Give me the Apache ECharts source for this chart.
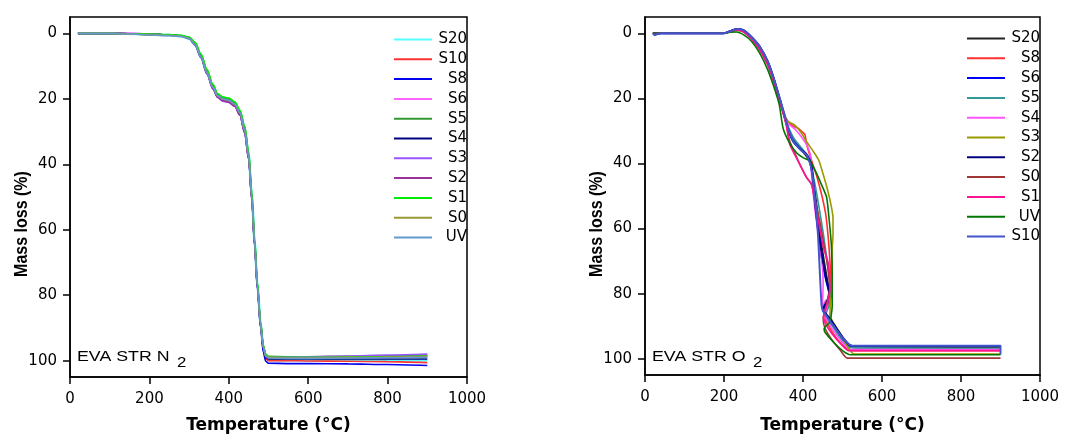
<!DOCTYPE html>
<html><head><meta charset="utf-8">
<script src="https://cdn.jsdelivr.net/npm/echarts@6/dist/echarts.min.js"></script>
<style>html,body{margin:0;padding:0;background:#fff}#c{width:1065px;height:439px}</style>
</head><body><div id="c"></div><script>
// ---------- axis ticks ----------
const xTicks = [0, 200, 400, 600, 800, 1000];
const yTicks = [0, 20, 40, 60, 80, 100];

// ---------- N2 chart (left) ----------
const namesN2 = ['S20','S10','S8','S6','S5','S4','S3','S2','S1','S0','UV'];
const colorsN2 = ['#55ffff','#ff3333','#0000ee','#ff66ff','#339933','#000080','#9955ff','#993399','#00ee00','#999933','#6699cc'];
const tempN2 = [20,60,100,150,200,250,280,300,315,330,345,360,372,385,400,415,428,440,450,458,465,472,480,487,493,500,550,600,700,800,900];
const n2_S20 = [0,0,0,0.1,0.3,0.5,0.8,1.4,3.2,7,11.8,16.3,18.8,19.8,20.2,21.4,24,29,37,49.5,63.5,76.5,88.5,96,98.8,99.8,99.9,99.9,99.9,99.9,99.9];
const n2_S10 = [0,0,0,0.1,0.3,0.5,0.8,1.5,3.3,7.1,12,16.5,19,20,20.4,21.6,24.3,29.6,37.8,50.5,64.5,77.5,89.5,96.8,99.4,100,100,100.1,100.2,100.3,100.6];
const n2_S8  = [0,0,0,0.1,0.3,0.5,0.9,1.6,3.6,7.5,12.4,17,19.5,20.5,20.9,22.2,25,30.5,38.5,51,65,78,90,97.5,100.2,100.8,100.9,100.9,101,101.2,101.5];
const n2_S6  = [0,-0.2,-0.2,-0.1,0.2,0.5,0.8,1.5,3.4,7.2,12.2,16.8,19.4,20.6,21,22.2,24.8,30,38,50.5,64,77,88.5,95.5,98.3,98.9,99,99,98.9,98.8,98.6];
const n2_S5  = [0,0,0,0.1,0.3,0.5,0.7,1.2,2.9,6.5,11.2,15.8,18.6,19.6,19.9,21,23.6,28.5,36.5,49,63,76.5,88.5,95.5,98,98.7,98.8,98.8,98.7,98.5,98.3];
const n2_S4  = [0,0,0,0.1,0.3,0.5,0.8,1.4,3.3,7.1,11.9,16.4,19,20,20.4,21.6,24.2,29.5,37.6,50.2,64.2,77.2,89,96.2,99,99.5,99.5,99.5,99.5,99.5,99.5];
const n2_S3  = [0,0,0,0.1,0.3,0.5,0.8,1.4,3.3,7.2,12.2,16.9,19.6,20.7,21.1,22.3,25,30.2,38.2,50.5,64.3,77.2,88.8,95.8,98.3,98.9,98.9,98.8,98.6,98.3,98.0];
const n2_S2  = [0,0,0,0.1,0.3,0.5,0.8,1.4,3.3,7.2,12.1,16.8,19.5,20.6,21,22.2,24.9,30.2,38.2,50.5,64.4,77.3,89,96,98.8,99.2,99.2,99.2,99.1,99,98.8];
const n2_S1  = [0,0,0,0.1,0.2,0.4,0.6,1.1,2.7,6.3,11,15.6,18.4,19.4,19.8,20.9,23.4,28.3,36.2,48.6,62.6,76,88,95.4,98.2,98.9,99,99,98.9,98.8,98.6];
const n2_S0  = [0,0,0,0.2,0.4,0.6,0.9,1.5,3.4,7.2,12,16.5,19.1,20.1,20.5,21.7,24.3,29.6,37.6,50.2,64.2,77.2,89,96,98.6,99,99.1,99.1,99,98.9,98.7];
const n2_UV  = [0,0,0,0.2,0.5,0.7,1.0,1.6,3.5,7.2,12,16.5,19,20,20.4,21.6,24.2,29.5,37.5,50,64,77,89,96,98.6,99.2,99.3,99.3,99.2,99.1,99.0];
const valuesN2 = [n2_S20,n2_S10,n2_S8,n2_S6,n2_S5,n2_S4,n2_S3,n2_S2,n2_S1,n2_S0,n2_UV];

// ---------- O2 chart (right): [temperature, mass loss] in recorded order ----------
const namesO2 = ['S20','S8','S6','S5','S4','S3','S2','S0','S1','UV','S10'];
const colorsO2 = ['#222222','#ff3030','#0000ff','#339999','#ff55ff','#999900','#000080','#a03838','#ff1493','#007700','#4455cc'];
const o2_S20 = [[20,0],[28,0.3],[40,0],[100,0],[200,0],[215,-0.6],[232,-1.2],[250,-0.7],[270,1.5],[290,4.5],[310,9],[325,14],[340,20],[352,25],[365,30],[380,33.5],[400,36.5],[415,39],[425,44],[435,53],[445,63],[455,71],[465,78],[470,81],[460,84],[452,85.5],[470,89],[490,92.5],[510,95.5],[525,96.5],[600,96.6],[900,96.6]];
const o2_S8  = [[20,0],[40,0],[100,0],[200,0],[215,-0.5],[232,-1.0],[250,-0.5],[270,1.5],[290,4.5],[310,9],[325,14],[340,20],[352,25],[362,27],[375,28.5],[388,29.2],[400,30.5],[405,31.2],[410,34.5],[420,38.5],[435,44],[448,50],[458,56],[466,66],[470,76],[470,81],[462,84.5],[456,87.5],[470,91],[490,94.5],[510,96.8],[525,97.5],[600,97.5],[900,97.5]];
const o2_S6  = [[20,0],[40,0],[100,0],[200,0],[215,-0.6],[232,-1.2],[250,-0.8],[270,1.3],[290,4.2],[310,8.7],[325,13.8],[340,19.8],[352,25],[362,29],[375,33],[395,35.5],[410,37.5],[420,40.5],[428,48],[437,58],[445,67],[455,74],[465,79],[470,80.6],[460,83],[450,85],[470,88.5],[495,93],[515,95.7],[525,96.1],[900,96.1]];
const o2_S5  = [[20,0],[40,0],[100,0],[200,0],[215,-0.5],[232,-1.1],[250,-0.7],[270,1.5],[290,4.5],[310,9],[325,14],[340,20],[352,25],[362,28.5],[378,32.5],[398,35.5],[415,38.8],[428,45],[440,53],[452,62],[462,71],[468,78],[466,84],[455,86.5],[475,90],[500,94.5],[520,96.6],[900,96.8]];
const o2_S4  = [[20,0],[40,0],[100,0],[200,0],[215,-0.5],[232,-1.0],[250,-0.6],[270,1.5],[290,4.5],[310,9],[325,14],[340,20],[352,25],[360,27.5],[380,29.5],[400,32.5],[413,35.2],[420,38.2],[422,44],[430,54],[440,63],[448,70],[451,76.6],[450,81],[448.5,84.7],[458,82],[462,83.5],[455,86.5],[475,91],[500,95],[520,97.2],[900,97.2]];
const o2_S3  = [[20,0],[40,0],[100,0],[200,0],[215,-0.4],[232,-0.9],[250,-0.5],[270,1.3],[290,4.2],[310,8.5],[325,13.5],[340,19.5],[352,24.5],[360,27],[379,28.2],[395,30.5],[410,33.5],[425.7,36.2],[440,39],[451,43.3],[462,48],[472,53.4],[476,57],[476,62],[474,66],[473,73],[472,79],[468,86.7],[475,88.5],[497,92.7],[515,96.8],[530,98.6],[900,98.6]];
const o2_S2  = [[20,0],[40,0],[100,0],[200,0],[215,-0.6],[232,-1.3],[250,-0.9],[270,1.2],[290,4.0],[310,8.5],[325,13.5],[340,19.8],[352,25],[362,29.5],[375,33.2],[392,35.5],[409,37.2],[421.6,40.3],[430,51.4],[438,60],[448,68],[458,75],[466,79.5],[462,82],[451,84.7],[470,88],[495,92.5],[515,95.5],[525,96.1],[900,96.1]];
const o2_S0  = [[20,0],[40,0],[100,0],[200,0],[215,-0.5],[232,-1.0],[250,-0.4],[270,1.8],[290,5],[310,9.5],[325,14.5],[340,20.5],[352,25.5],[358,28],[366,33],[380,37],[392,40.3],[409,44.3],[421.6,46.5],[432,52],[443,58],[453,65],[463,72],[468,78.6],[460,83],[451,87.7],[456,90.7],[475,94.5],[495,97.5],[512,99.8],[900,99.8]];
const o2_S1  = [[20,0],[40,0],[100,0],[200,0],[215,-0.5],[232,-1.0],[250,-0.4],[270,1.8],[290,5],[310,9.5],[325,14.5],[340,20.5],[352,25.5],[358,28.5],[366.6,34.2],[380,37.5],[392,40.3],[409,44.3],[421.6,46.3],[432,53],[442.6,60],[452,66],[463.7,70.5],[468,78.6],[462,83],[452,87],[458,89.5],[478,93],[500,96],[515,97.5],[900,97.5]];
const o2_UV  = [[20,0],[40,0],[100,0],[200,0],[215,-0.3],[232,-0.4],[250,0.5],[270,2.5],[290,6],[310,11],[325,16],[340,22],[349.6,29.2],[365,33.5],[383.6,36.7],[400,38.2],[417,39.2],[430,42],[445,46],[459.6,50.3],[466,57],[472,65.5],[474,75],[474,83.6],[468,88.7],[453.5,90.7],[455,91.7],[476,94.8],[500,97.5],[520,98.8],[900,98.8]];
const o2_S10 = [[20,0],[25,0.6],[30,0.3],[40,0],[100,0],[200,0],[215,-0.6],[232,-1.3],[250,-0.9],[270,1.2],[290,4.0],[310,8.5],[325,13.5],[340,19.5],[352,24.5],[362,29],[375,33],[395,36],[410,37.5],[422,42],[430,50.3],[438,62],[447,83.6],[452,85.5],[475,89.5],[500,93.5],[523,96],[900,96],[900,98.7]];
const valuesO2 = [o2_S20,o2_S8,o2_S6,o2_S5,o2_S4,o2_S3,o2_S2,o2_S0,o2_S1,o2_UV,o2_S10];

// ---------- build ----------
const FONT = 'DejaVu Sans';
function xAx(gi, gap) {
  return {
    type: 'value', gridIndex: gi, min: 0, max: 1000, interval: 200,
    name: 'Temperature (°C)', nameLocation: 'middle', nameGap: gap,
    nameTextStyle: { fontFamily: FONT, fontWeight: 'bold', fontSize: 17, color: '#000' },
    axisLine: { show: true, onZero: false, lineStyle: { color: '#000', width: 1.5 } },
    axisTick: { show: true, length: 7, customValues: xTicks, lineStyle: { color: '#000', width: 1.5 } },
    axisLabel: { margin: 15, color: '#000', fontFamily: FONT, fontSize: 15, customValues: xTicks, formatter: v => String(v) },
    splitLine: { show: false }
  };
}
function yAx(gi) {
  return {
    type: 'value', gridIndex: gi, inverse: true, min: -5, max: 105,
    axisLine: { show: true, onZero: false, lineStyle: { color: '#000', width: 1.5 } },
    axisTick: { show: true, length: 7, customValues: yTicks, lineStyle: { color: '#000', width: 1.5 } },
    axisLabel: { margin: 13, color: '#000', fontFamily: FONT, fontSize: 15, customValues: yTicks, formatter: v => String(v) },
    splitLine: { show: false }
  };
}
function legend(names, left, top, prefix) {
  return {
    orient: 'vertical', left: left, top: top, itemWidth: 38, itemHeight: 2, itemGap: 4.8,
    icon: 'rect',
    data: names.map(n => prefix + n),
    formatter: name => '{r|' + name.replace(prefix, '') + '}',
    textStyle: { color: '#000', fontFamily: FONT, fontSize: 15,
      rich: { r: { width: 30, align: 'right', color: '#000', fontFamily: FONT, fontSize: 15, lineHeight: 16 } } }
  };
}
const series = [];
namesN2.forEach((n, i) => {
  series.push({
    type: 'line', name: n, xAxisIndex: 0, yAxisIndex: 0, symbol: 'none', showSymbol: false,
    smooth: 0.3, smoothMonotone: 'x',
    lineStyle: { color: colorsN2[i], width: n === 'S20' ? 2.5 : 1.6 }, itemStyle: { color: colorsN2[i] },
    data: tempN2.map((t, k) => [t, valuesN2[i][k]])
  });
});
namesO2.forEach((n, i) => {
  series.push({
    type: 'line', name: 'O2:' + n, xAxisIndex: 1, yAxisIndex: 1, symbol: 'none', showSymbol: false,
    smooth: 0.2,
    lineStyle: { color: colorsO2[i], width: (n === 'S10' || n === 'S2' || n === 'S6') ? 2 : 1.6 }, itemStyle: { color: colorsO2[i] },
    data: valuesO2[i]
  });
});

const chart = echarts.init(document.getElementById('c'), null, { renderer: 'canvas' });
chart.setOption({
  animation: false,
  backgroundColor: '#fff',
  grid: [
    { left: 70, right: 598, top: 17, bottom: 59, show: true, borderColor: '#000', borderWidth: 1.5, backgroundColor: 'transparent' },
    { left: 645, right: 25, top: 17, bottom: 59, show: true, borderColor: '#000', borderWidth: 1.5, backgroundColor: 'transparent' }
  ],
  xAxis: [xAx(0, 40), xAx(1, 42)],
  yAxis: [yAx(0), yAx(1)],
  legend: [legend(namesN2, 389, 27, ''), legend(namesO2, 962, 26, 'O2:')],
  graphic: [
    { type: 'text', x: 22, y: 224, rotation: Math.PI / 2, scaleY: 1.2,
      style: { text: 'Mass loss (%)', font: 'bold 16px "Liberation Sans"', fill: '#000', textAlign: 'center', textVerticalAlign: 'middle' } },
    { type: 'text', x: 597, y: 224, rotation: Math.PI / 2, scaleY: 1.2,
      style: { text: 'Mass loss (%)', font: 'bold 16px "Liberation Sans"', fill: '#000', textAlign: 'center', textVerticalAlign: 'middle' } },
    { type: 'text', x: 77, y: 350, scaleX: 1.27,
      style: { text: 'EVA STR N', font: '14px "Liberation Sans"', fill: '#000', textAlign: 'left', textVerticalAlign: 'top' } },
    { type: 'text', x: 177, y: 356, scaleX: 1.2,
      style: { text: '2', font: '14px "Liberation Sans"', fill: '#000', textAlign: 'left', textVerticalAlign: 'top' } },
    { type: 'text', x: 652, y: 350, scaleX: 1.27,
      style: { text: 'EVA STR O', font: '14px "Liberation Sans"', fill: '#000', textAlign: 'left', textVerticalAlign: 'top' } },
    { type: 'text', x: 753, y: 356, scaleX: 1.2,
      style: { text: '2', font: '14px "Liberation Sans"', fill: '#000', textAlign: 'left', textVerticalAlign: 'top' } }
  ],
  series: series
});
</script></body></html>
